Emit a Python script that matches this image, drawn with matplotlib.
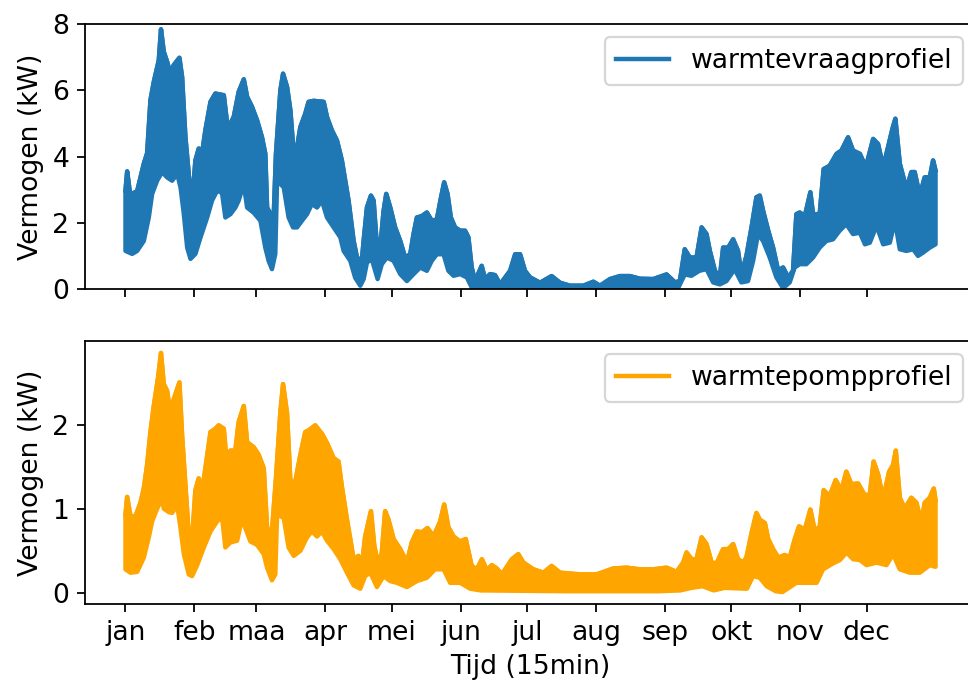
import numpy as np
import matplotlib
matplotlib.use("Agg")
import matplotlib.pyplot as plt

# Year of quarter-hour data, described by its daily upper and lower envelope.
# Positions are in days since 1 January; the x-axis runs in 15-min steps.
STEPS_PER_DAY = 96

month_labels = ["jan", "feb", "maa", "apr", "mei", "jun",
                "jul", "aug", "sep", "okt", "nov", "dec"]
month_start_days = [0, 31, 59, 90, 120, 151, 181, 212, 243, 273, 304, 334]

# warmtevraag (heat demand), kW
vraag_hi_days = [0, 0.75, 2, 3, 5.25, 8.25, 9.75, 11.25, 12.75, 15, 16, 17.25, 18.75,
                 20.25, 21.75, 24.3, 25.5, 27, 29.3, 30, 31.5, 33, 34.5, 36, 38.3,
                 40.5, 44.3, 45.8, 47.3, 48.8, 51, 53.3, 54.8, 57, 59.3, 61.5, 63,
                 63.8, 65.3, 66.8, 67.8, 69.8, 71, 72.8, 74.3, 75.8, 77.3, 78.8, 81,
                 82.5, 84.8, 89.3, 90.8, 93, 95.3, 97.5, 100.5, 102.8, 104.3, 106.5,
                 107.3, 108.8, 110.6, 111.8, 113, 114.8, 116.3, 117.5, 119.3, 121.5,
                 123.8, 126, 128.3, 129.8, 131.3, 133.5, 135.8, 138, 140.3, 142.2,
                 143.6, 145.1, 146.6, 148.5, 150.8, 153, 154.5, 156, 157.5, 160.5,
                 162, 164.3, 166.5, 168.8, 173.3, 175.6, 177.8, 180, 182.3, 186.8,
                 192, 195.8, 200.3, 206.3, 210.8, 213.8, 218.3, 222.8, 227.3, 231.8,
                 237.8, 243.8, 247.6, 249.8, 252, 254.3, 257.3, 259.6, 261.8, 263.3,
                 265.6, 267.8, 269.3, 271.6, 273.8, 276, 277.5, 279.8, 282.1, 284.3,
                 285.8, 287.3, 289.6, 291.8, 294.1, 296.3, 298.6, 300.8, 302.3, 303.8,
                 306.1, 308.6, 309.8, 312.8, 314.6, 317.3, 320.4, 322.6, 325.6, 327.8,
                 330.9, 333.6, 336.9, 339.1, 341.4, 343.6, 345.6, 346.9, 348.9, 351.9,
                 354.1, 355.6, 357.9, 360.1, 362.4, 363.9, 365]
vraag_hi = [2.97, 3.55, 2.9, 2.88, 2.95, 3.78, 4.1, 5.7, 6.25, 6.9, 7.84, 7.16, 6.86,
            6.5, 6.76, 6.98, 6.4, 4.58, 2.88, 2.6, 3.88, 4.24, 4.1, 4.79, 5.65,
            5.9, 5.85, 5.0, 5.0, 5.2, 5.95, 6.33, 5.8, 5.5, 5.09, 4.58, 4.08,
            2.46, 2.27, 2.2, 4.08, 6.0, 6.5, 6.1, 5.39, 4.08, 4.28, 4.89, 5.29,
            5.65, 5.68, 5.65, 5.19, 4.79, 4.48, 3.88, 2.67, 1.45, 0.95, 0.85,
            1.45, 2.46, 2.82, 2.67, 1.56, 1.25, 2.36, 2.87, 2.46, 1.86,
            1.45, 0.95, 1.05, 1.66, 2.16, 2.2, 2.31, 2.06, 2.1, 2.77,
            3.22, 2.87, 2.16, 1.86, 1.76, 1.76, 1.56, 0.65, 0.24, 0.7,
            0.3, 0.45, 0.42, 0.14, 0.55, 1.05, 1.05, 0.55, 0.35, 0.19,
            0.39, 0.19, 0.1, 0.1, 0.22, 0.1, 0.3, 0.39, 0.39, 0.31,
            0.3, 0.44, 0.2, 0.24, 1.2, 0.95, 0.95, 1.86, 1.66, 1.15,
            0.55, 0.35, 1.25, 1.25, 1.5, 1.15, 0.45, 1.0, 1.86, 2.77,
            2.82, 2.36, 1.76, 1.25, 0.55, 0.65, 0.35, 0.55, 2.26, 2.31,
            2.2, 2.92, 2.26, 2.26, 3.62, 3.72, 4.08, 4.18, 4.58, 4.18,
            4.08, 3.68, 4.53, 4.38, 3.68, 4.28, 4.84, 5.14, 3.78, 3.02,
            3.53, 3.53, 2.82, 3.37, 3.37, 3.88, 3.58]
vraag_lo_days = [0, 3, 5.25, 8.25, 10.5, 12, 14.25, 16.5, 18.75, 21, 23.3, 24.8, 26.3,
                 27.8, 29.3, 31.5, 33.8, 36.8, 39, 41.3, 43.5, 45, 47.3, 49.5, 51,
                 53.3, 54.8, 57.8, 60.8, 63, 64.5, 66, 67.5, 68.3, 71.3, 73.5, 75.5,
                 77.3, 79.5, 81.8, 84, 86.3, 88.5, 90.8, 93.8, 96.8, 98.3, 101.3,
                 103.5, 105.8, 107.3, 108.8, 111, 113.6, 115.5, 117.8, 120.8, 123.8,
                 126.8, 129.8, 132.8, 135.8, 138, 140.3, 143.3, 145.5, 147.8, 150.8,
                 153.8, 156, 170, 200, 230, 245, 248.8, 252, 255, 258.6, 261.8,
                 264.8, 267.8, 270.8, 274.5, 277.5, 280.5, 282.8, 285, 287.3, 290.3,
                 293.3, 296.3, 299.3, 301.5, 303.8, 306.8, 309.8, 312.8, 315.8, 318.8,
                 321.8, 324.8, 327.8, 330.9, 333.2, 335.4, 338.4, 341.4, 344.4, 346.7,
                 348.9, 351.9, 354.9, 357.1, 359.4, 362.4, 365]
vraag_lo = [1.15, 1.06, 1.15, 1.45, 2.16, 2.87, 3.27, 3.53, 3.37, 3.27, 3.48, 3.07, 2.26,
            1.25, 0.91, 1.06, 1.56, 2.16, 2.67, 2.97, 2.9, 2.16, 2.26, 2.46, 2.67,
            3.17, 2.46, 2.3, 2.06, 1.25, 0.85, 0.6, 1.06, 3.27, 3.07, 2.16, 1.86,
            1.86, 2.06, 2.26, 2.57, 2.46, 2.67, 2.16, 1.86, 1.56, 1.15, 0.85,
            0.34, 0.1, 0.3, 0.8, 0.9, 0.3, 0.75, 0.95, 0.85, 0.45,
            0.24, 0.45, 0.65, 0.55, 0.85, 1.05, 1.05, 0.55, 0.4, 0.45,
            0.35, 0.05, 0.02, 0.0, 0.03, 0.05, 0.0, 0.44, 0.4, 0.55, 0.6,
            0.2, 0.14, 0.24, 0.6, 0.2, 0.24, 0.85, 1.66, 1.45, 0.95,
            0.35, 0.03, 0.2, 0.65, 0.75, 0.75, 0.95, 1.25, 1.45, 1.5,
            1.76, 1.96, 1.66, 1.7, 1.35, 1.4, 1.91, 1.35, 1.4, 2.06,
            1.2, 1.15, 1.2, 1.0, 1.1, 1.25, 1.35]

# warmtepomp (heat pump), kW
pomp_hi_days = [0, 0.75, 2.25, 4.5, 6.75, 8.25, 9.75, 11.25, 12.75, 14.7, 16, 17.25,
                18.75, 20.25, 21.75, 24.3, 25.5, 27, 28.5, 30, 31.5, 33, 34.5, 36,
                38.3, 40.5, 42, 44.3, 45.8, 47.3, 49.5, 51, 53.3, 54.8, 57.8, 60,
                62.3, 63.8, 66, 67.8, 69.8, 71, 72.8, 74.3, 76.5, 78.8, 81, 82.5,
                85.5, 88.5, 90.8, 93.8, 96, 97.5, 99.8, 102.8, 105, 106.5, 108,
                110.6, 112.1, 114, 115.5, 117, 118.5, 120.8, 123.8, 126.8, 129,
                131.3, 133.5, 136.1, 138.8, 141.8, 143.6, 145.5, 147.8, 150.8, 153.3,
                156, 158.3, 160.6, 162.8, 165.1, 167.3, 169.6, 174.1, 177, 179.3,
                183.8, 188.3, 192, 195.8, 204.8, 212.3, 219.8, 225.8, 231.8, 237.8,
                243.8, 248.3, 251.3, 252.8, 255.1, 257.3, 259.6, 261.8, 264.1, 266.3,
                269.3, 271.6, 273.8, 276, 278.3, 279.8, 282.1, 284.3, 285.8, 288.1,
                289.6, 291.8, 294.1, 297.1, 299.3, 301.6, 303.5, 306.1, 308.6, 310.5,
                312.8, 314.6, 317.3, 320, 322.6, 324.8, 327.1, 330.1, 333.1, 335.4,
                337.1, 339.1, 341.4, 344.1, 345.9, 347.1, 348.9, 351.1, 354.1, 356.4,
                358.6, 360.1, 362.4, 364.2, 365]
pomp_hi = [0.93, 1.14, 0.91, 0.91, 1.07, 1.24, 1.52, 1.91, 2.22, 2.56, 2.85, 2.48,
           2.4, 2.13, 2.3, 2.5, 1.87, 1.28, 0.69, 0.62, 1.22, 1.36, 1.2, 1.48,
           1.91, 1.95, 1.99, 1.95, 1.48, 1.69, 1.69, 2.03, 2.22, 1.79, 1.73, 1.64,
           1.48, 0.77, 0.73, 1.36, 2.15, 2.48, 2.13, 1.32, 1.32, 1.64, 1.91, 1.93,
           1.99, 1.89, 1.78, 1.6, 1.56, 1.26, 0.87, 0.4, 0.44, 0.32, 0.67,
           0.97, 0.56, 0.32, 0.48, 0.97, 0.87, 0.64, 0.52, 0.36, 0.6,
           0.73, 0.72, 0.77, 0.67, 0.85, 1.05, 0.78, 0.67, 0.61, 0.64,
           0.32, 0.28, 0.4, 0.27, 0.33, 0.29, 0.22, 0.4, 0.46, 0.36,
           0.28, 0.24, 0.32, 0.24, 0.22, 0.22, 0.29, 0.3, 0.28, 0.28,
           0.3, 0.25, 0.36, 0.48, 0.4, 0.4, 0.66, 0.58, 0.36, 0.35,
           0.52, 0.52, 0.58, 0.4, 0.36, 0.42, 0.71, 0.95, 0.87, 0.83,
           0.64, 0.52, 0.42, 0.45, 0.42, 0.64, 0.79, 0.75, 0.99, 0.75,
           0.78, 1.22, 1.15, 1.34, 1.22, 1.44, 1.29, 1.3, 1.16, 1.17,
           1.56, 1.41, 1.12, 1.44, 1.52, 1.69, 1.13, 1.0, 1.13, 1.07,
           0.83, 1.07, 1.13, 1.24, 1.1]
pomp_lo_days = [0, 2.25, 5.25, 8.25, 10.5, 12, 14.25, 16.5, 17.25, 19.5, 21, 23.3, 24.8,
                26.3, 28.5, 30, 32.3, 35.3, 38.3, 41.3, 43.5, 45, 47.3, 50.3, 52.5,
                54, 56.3, 59.3, 62.3, 63.8, 66, 67.5, 68.3, 71.3, 73.5, 75.8, 78.8,
                81.8, 84, 86.3, 88.5, 90.8, 93.8, 96.8, 99.8, 102.8, 105.8, 108,
                110.3, 113.3, 116.3, 119.3, 122.3, 126.8, 131.3, 135.8, 139.5, 143.3,
                146.3, 150.8, 155.3, 160, 200, 240, 250, 255, 260, 265, 270, 280,
                282.8, 285.8, 288.9, 293, 296, 302.3, 311.4, 314.3, 318.8, 321.9,
                324.9, 327.9, 330.9, 333.9, 338.4, 342.9, 345.9, 348.9, 353.4, 357.9,
                362.4, 365]
pomp_lo = [0.28, 0.24, 0.25, 0.42, 0.66, 0.85, 1.0, 1.12, 1.0, 0.96, 0.95, 1.04, 0.77,
           0.46, 0.22, 0.2, 0.33, 0.54, 0.73, 0.85, 0.9, 0.54, 0.6, 0.62, 0.88,
           0.77, 0.61, 0.57, 0.46, 0.3, 0.15, 0.22, 0.93, 0.89, 0.54, 0.44, 0.5,
           0.66, 0.73, 0.67, 0.73, 0.62, 0.52, 0.4, 0.24, 0.09, 0.05, 0.2,
           0.24, 0.07, 0.2, 0.14, 0.12, 0.07, 0.14, 0.18, 0.28, 0.28,
           0.12, 0.12, 0.05, 0.03, 0.02, 0.02, 0.03, 0.06, 0.08, 0.03, 0.06, 0.05,
           0.2, 0.18, 0.08, 0.02, 0.01, 0.12, 0.12, 0.28, 0.35, 0.39,
           0.48, 0.4, 0.39, 0.33, 0.36, 0.33, 0.46, 0.28, 0.24, 0.24,
           0.33, 0.31]


def draw_band(ax, hi_days, hi, lo_days, lo, color, label):
    """Fill the area between the upper and lower envelope, with a thick outline."""
    hi_x = np.asarray(hi_days) * STEPS_PER_DAY
    lo_x = np.asarray(lo_days) * STEPS_PER_DAY
    ax.fill(np.r_[hi_x, lo_x[::-1]], np.r_[hi, lo[::-1]], facecolor=color,
            edgecolor=color, lw=2, joinstyle="round")
    ax.plot(hi_x, hi, color=color, lw=2, label=label)


plt.rcParams["font.size"] = 12

fig = plt.figure(figsize=(968 / 160, 686 / 160), dpi=160)
# axes run a little past the right edge of the canvas
ax1 = fig.add_axes([0.0878, 0.5787, 0.9205, 0.3863])
ax2 = fig.add_axes([0.0878, 0.1195, 0.9205, 0.3834], sharex=ax1)

draw_band(ax1, vraag_hi_days, vraag_hi, vraag_lo_days, vraag_lo, "tab:blue", "warmtevraagprofiel")
ax1.set_ylim(0, 8)
ax1.set_ylabel("Vermogen (kW)")
ax1.legend(loc="upper right")
ax1.tick_params(labelbottom=False)

draw_band(ax2, pomp_hi_days, pomp_hi, pomp_lo_days, pomp_lo, "orange", "warmtepompprofiel")
ax2.set_ylabel("Vermogen (kW)")
ax2.legend(loc="upper right")

ax2.set_xticks(np.array(month_start_days) * STEPS_PER_DAY)
ax2.set_xticklabels(month_labels)
ax2.set_xlabel("Tijd (15min)")

fig.savefig("out.png", dpi=160)
